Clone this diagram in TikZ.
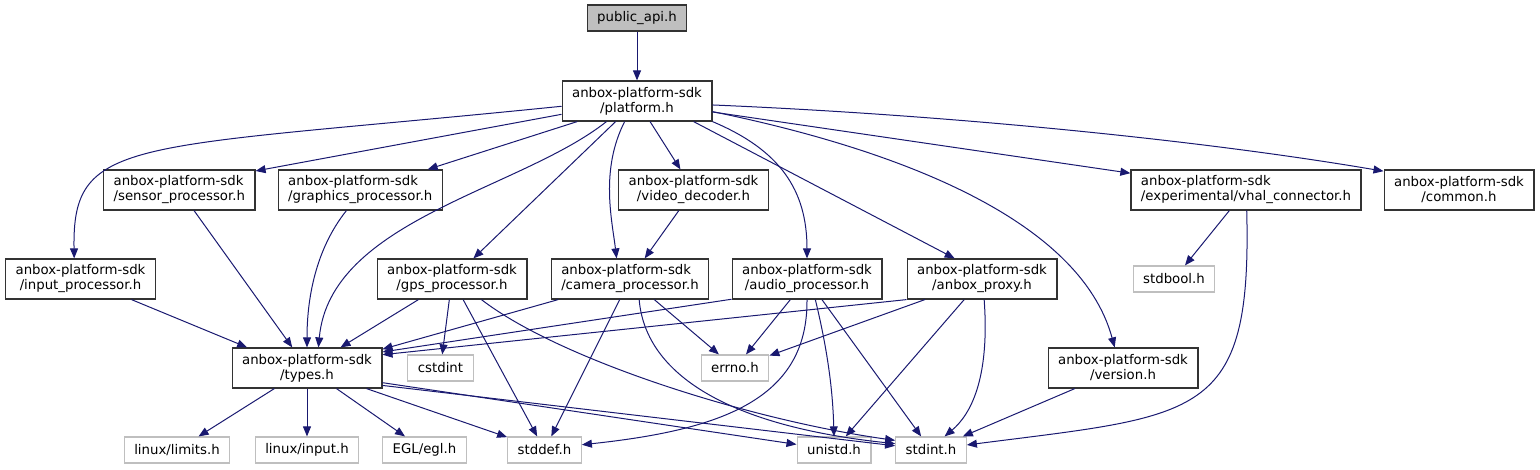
\documentclass[tikz,border=0pt]{standalone}
\usepackage{fontspec}
\setmainfont{DejaVu Sans}
\usetikzlibrary{arrows.meta}
\definecolor{incblue}{HTML}{191970}
\definecolor{incgrey}{HTML}{BFBFBF}
\tikzset{
    incfile/.style={draw=black!80, line width=1.2pt, fill=white, align=center, inner xsep=10pt, inner ysep=2pt, minimum height=40pt, font=\fontsize{13.3}{15}\selectfont},
    incsys/.style={draw=incgrey, line width=1.2pt, fill=white, inner xsep=10pt, inner ysep=2pt, minimum height=26pt, font=\fontsize{13.3}{15}\selectfont},
    incroot/.style={incsys, draw=black!80, fill=incgrey},
    incedge/.style={draw=incblue, line width=1pt, -{Triangle[length=10pt, width=8pt]}}
}
\begin{document}
\begin{tikzpicture}[x=1pt, y=-1pt]
    \useasboundingbox (0,0) rectangle (1540,469);
    % top
    \node[incroot] (pub) at (637,18) {public\_api.h};
    \node[incfile] (plat) at (637,101) {anbox-platform-sdk\\/platform.h};
    % second row
    \node[incfile, align=left] (sensor) at (179.3,190) {anbox-platform-sdk\\/sensor\_processor.h};
    \node[incfile, align=left] (graphics) at (360.3,190) {anbox-platform-sdk\\/graphics\_processor.h};
    \node[incfile] (video) at (693.5,190) {anbox-platform-sdk\\/video\_decoder.h};
    \node[incfile, align=left] (vhal) at (1246,190) {anbox-platform-sdk\\/experimental/vhal\_connector.h};
    \node[incfile] (common) at (1459,190) {anbox-platform-sdk\\/common.h};
    % third row
    \node[incfile] (input) at (80.5,279) {anbox-platform-sdk\\/input\_processor.h};
    \node[incfile] (gps) at (452,279) {anbox-platform-sdk\\/gps\_processor.h};
    \node[incfile, align=left] (camera) at (630,279) {anbox-platform-sdk\\/camera\_processor.h};
    \node[incfile] (audio) at (807,279) {anbox-platform-sdk\\/audio\_processor.h};
    \node[incfile] (proxy) at (982,279) {anbox-platform-sdk\\/anbox\_proxy.h};
    \node[incsys] (stdbool) at (1174,279) {stdbool.h};
    % fourth row
    \node[incfile] (types) at (307,368) {anbox-platform-sdk\\/types.h};
    \node[incsys] (cstdint) at (440.5,368) {cstdint};
    \node[incsys] (errno) at (735,368) {errno.h};
    \node[incfile] (version) at (1123,368) {anbox-platform-sdk\\/version.h};
    % system headers
    \node[incsys] (limits) at (177,450) {linux/limits.h};
    \node[incsys] (linput) at (307,450) {linux/input.h};
    \node[incsys] (egl) at (424.5,450) {EGL/egl.h};
    \node[incsys] (stddef) at (544.5,450) {stddef.h};
    \node[incsys] (unistd) at (834,450) {unistd.h};
    \node[incsys] (stdint) at (931,450) {stdint.h};

    \draw[incedge] (pub) -- (plat);
    \draw[incedge] (plat.184) .. controls (130,150) and (72,135) .. (input.107);
    \draw[incedge] (plat.190) -- (sensor.14);
    \draw[incedge] (plat.199) -- (graphics.17);
    \draw[incedge] (plat.214) .. controls (520,190) and (330,220) .. (types.61);
    \draw[incedge] (plat) -- (gps);
    \draw[incedge] (plat.239) .. controls (600,170) and (612,220) .. (camera.123);
    \draw[incedge] (plat) -- (video);
    \draw[incedge] (plat.south east) .. controls (780,150) and (807,190) .. (audio.north);
    \draw[incedge] (plat.-20) -- (proxy.143);
    \draw[incedge] (plat) -- (vhal);
    \draw[incedge] (plat.-3) .. controls (950,115) and (1200,140) .. (common.166);
    \draw[incedge] (plat.-8) .. controls (900,150) and (1080,220) .. (version.112);

    \draw[incedge] (input.-22) -- (types.161);
    \draw[incedge] (sensor) -- (types);
    \draw[incedge] (graphics.236) .. controls (315,250) and (307,300) .. (types.north);
    \draw[incedge] (video) -- (camera);
    \draw[incedge] (gps) -- (types);
    \draw[incedge] (gps) -- (cstdint);
    \draw[incedge] (gps) -- (stddef);
    \draw[incedge] (gps.-35) .. controls (560,360) and (750,420) .. (stdint.165);
    \draw[incedge] (camera.196) -- (types.14);
    \draw[incedge] (camera) -- (errno);
    \draw[incedge] (camera) -- (stddef);
    \draw[incedge] (camera.-66) .. controls (645,370) and (720,425) .. (stdint.170);
    \draw[incedge] (audio.195) -- (types.12);
    \draw[incedge] (audio) -- (errno);
    \draw[incedge] (audio.south) .. controls (808,400) and (720,430) .. (stddef.8);
    \draw[incedge] (audio.-68) .. controls (830,360) and (833,400) .. (unistd.north);
    \draw[incedge] (audio) -- (stdint);
    \draw[incedge] (proxy.south west) -- (types.10);
    \draw[incedge] (proxy) -- (errno);
    \draw[incedge] (proxy) -- (unistd);
    \draw[incedge] (proxy.-84) .. controls (990,380) and (970,415) .. (stdint.45);
    \draw[incedge] (vhal) -- (stdbool);
    \draw[incedge] (vhal.-88) .. controls (1252,420) and (1200,415) .. (stdint.8);
    \draw[incedge] (version) -- (stdint);

    \draw[incedge] (types) -- (limits);
    \draw[incedge] (types) -- (linput);
    \draw[incedge] (types) -- (egl);
    \draw[incedge] (types) -- (stddef);
    \draw[incedge] (types.-11) -- (unistd);
    \draw[incedge] (types.-13) -- (stdint);
\end{tikzpicture}
\end{document}
